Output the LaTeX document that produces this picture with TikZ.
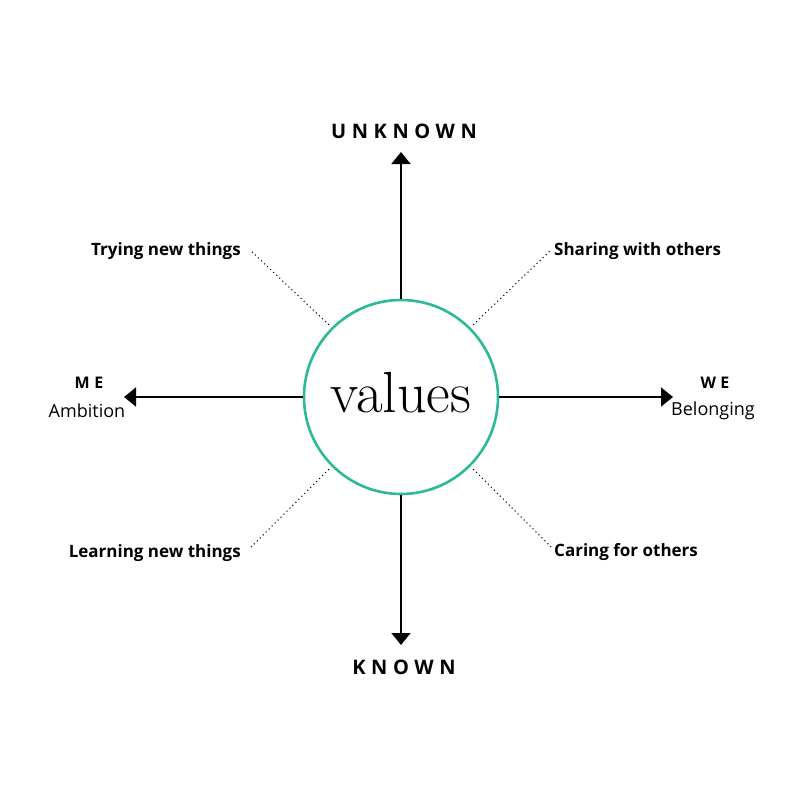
\documentclass[tikz,border=0pt]{standalone}
\usepackage{fontspec}
\setmainfont{Open Sans}
\newfontfamily\valfont{Latin Modern Roman}
\newfontfamily\spaced[LetterSpace=28]{Open Sans}
\usetikzlibrary{arrows.meta}
\definecolor{teal1}{HTML}{2BB99A}
\tikzset{
  axis/.style={line width=1.8pt, -{Triangle[width=19pt,length=12pt]}},
  dotline/.style={line width=1.5pt, dash pattern=on 0pt off 4.2pt, line cap=round},
  lbl/.style={font=\fontsize{17}{20}\selectfont\bfseries, inner sep=0pt},
  pole/.style={font=\fontsize{20}{24}\selectfont\spaced\bfseries, inner sep=0pt},
  side/.style={font=\fontsize{16}{19}\selectfont\spaced\bfseries, inner sep=0pt},
  sub/.style={font=\fontsize{18}{21}\selectfont, inner sep=0pt},
}
\begin{document}
\begin{tikzpicture}[x=1pt,y=-1pt]
\useasboundingbox (0,0) rectangle (800,800);
\node[circle, draw=teal1, line width=2.6pt, minimum size=194pt, inner sep=0pt] (c) at (401,397) {};
\node[font=\fontsize{58}{64}\selectfont\valfont, inner sep=0pt] (v) at (401,393) {values};
\coordinate (tn) at (401,152);
\coordinate (ts) at (401,645);
\coordinate (tw) at (124,397);
\coordinate (te) at (673,397);
\draw[axis] (c.north) -- (tn);
\draw[axis] (c.south) -- (ts);
\draw[axis] (c.west) -- (tw);
\draw[axis] (c.east) -- (te);
\node[pole] (unk) at (404,131) {UNKNOWN};
\node[pole] (kn) at (404,667) {KNOWN};
\node[side] (me) at (89,383) {ME};
\node[sub] (amb) at (87,411) {Ambition};
\node[side] (we) at (715,383) {WE};
\node[sub] (bel) at (713,411) {Belonging};
\node[lbl, anchor=east] (t1) at (241,251) {Trying new things};
\node[lbl, anchor=west] (t2) at (554,251) {Sharing with others};
\node[lbl, anchor=east] (t3) at (241,553) {Learning new things};
\node[lbl, anchor=west] (t4) at (554,552) {Caring for others};
\coordinate (d1) at (250,250);
\coordinate (d2) at (552,249);
\coordinate (d3) at (250,548);
\coordinate (d4) at (552,548);
\draw[dotline] (c.135) ++(-3,-3) -- (d1);
\draw[dotline] (c.45) ++(3,-3) -- (d2);
\draw[dotline] (c.225) ++(-3,3) -- (d3);
\draw[dotline] (c.-45) ++(3,3) -- (d4);
\end{tikzpicture}
\end{document}
